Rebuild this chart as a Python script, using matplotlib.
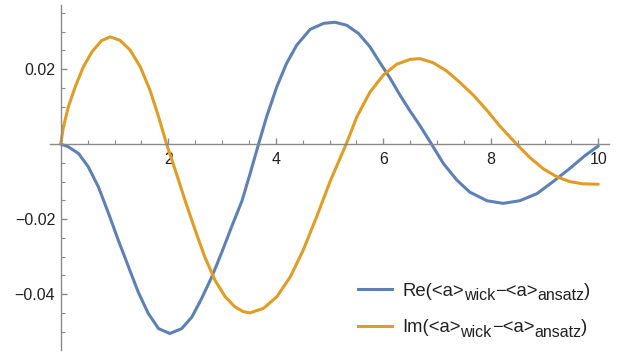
import numpy as np
import matplotlib.pyplot as plt
from matplotlib.lines import Line2D
from matplotlib.ticker import FixedLocator, FuncFormatter

plt.rcParams['font.family'] = ['Liberation Sans', 'DejaVu Sans']

# Re part
re_x = [0, 0.14, 0.33, 0.51, 0.70, 0.89, 1.07, 1.26, 1.44, 1.63, 1.82, 2.03, 2.25, 2.44,
        2.62, 2.81, 3.00, 3.18, 3.37, 3.52, 3.68, 3.83, 4.02, 4.20, 4.39, 4.64, 4.89,
        5.10, 5.32, 5.54, 5.75, 5.94, 6.13, 6.31, 6.50, 6.68, 6.89, 7.12, 7.37, 7.61,
        7.93, 8.23, 8.54, 8.86, 9.16, 9.47, 9.75, 10.0]
re_y = [0, -0.0007, -0.0025, -0.0060, -0.0114, -0.0185, -0.0256, -0.0327, -0.0394,
        -0.0452, -0.0492, -0.0505, -0.0492, -0.0461, -0.0412, -0.0354, -0.0287, -0.0220,
        -0.0152, -0.0080, 0.0, 0.0073, 0.0153, 0.0215, 0.0264, 0.0306, 0.0322, 0.0325,
        0.0317, 0.0295, 0.0260, 0.0217, 0.0175, 0.0131, 0.0088, 0.0050, 0.0002, -0.0052,
        -0.0096, -0.0128, -0.0151, -0.0158, -0.0151, -0.0132, -0.0100, -0.0065, -0.0031,
        -0.0005]

# Im part
im_x = [0, 0.05, 0.14, 0.27, 0.42, 0.58, 0.76, 0.92, 1.10, 1.29, 1.48, 1.66, 1.82, 1.97,
        2.13, 2.31, 2.50, 2.68, 2.87, 3.06, 3.24, 3.40, 3.52, 3.77, 4.02, 4.27, 4.51,
        4.76, 5.01, 5.31, 5.51, 5.75, 6.00, 6.25, 6.50, 6.68, 6.93, 7.18, 7.43, 7.68,
        7.93, 8.17, 8.48, 8.73, 8.98, 9.23, 9.47, 9.72, 10.0]
im_y = [0, 0.0046, 0.0099, 0.0153, 0.0206, 0.0246, 0.0276, 0.0286, 0.0277, 0.0251,
        0.0206, 0.0144, 0.0073, 0.0, -0.0069, -0.0149, -0.0229, -0.0301, -0.0363,
        -0.0407, -0.0434, -0.0447, -0.0450, -0.0438, -0.0407, -0.0354, -0.0283, -0.0194,
        -0.0100, 0.0, 0.0073, 0.0138, 0.0184, 0.0213, 0.0226, 0.0228, 0.0217, 0.0195,
        0.0164, 0.0130, 0.0090, 0.0048, 0.0, -0.0036, -0.0066, -0.0087, -0.0100,
        -0.0106, -0.0107]

blue = '#5e81b5'
orange = '#e19c24'
legend_parts = [
    [('Re(<a>', False), ('wick', True), ('−<a>', False), ('ansatz', True), (')', False)],
    [('Im(<a>', False), ('wick', True), ('−<a>', False), ('ansatz', True), (')', False)],
]

W, H = 623, 358
fig = plt.figure(figsize=(W / 100, H / 100), dpi=100)
ax = fig.add_axes([50 / W, 8 / H, 559 / W, 345 / H])

ax.plot(re_x, re_y, color=blue, lw=2.2, solid_capstyle='round', solid_joinstyle='round')
ax.plot(im_x, im_y, color=orange, lw=2.2, solid_capstyle='round', solid_joinstyle='round')

ax.set_xlim(-0.2, 10.2)
ax.set_ylim(-0.0549, 0.0371)

for s in ['top', 'right']:
    ax.spines[s].set_visible(False)
ax.spines['left'].set_position(('data', 0))
ax.spines['bottom'].set_position(('data', 0))
for s in ['left', 'bottom']:
    ax.spines[s].set_color('#8a8a8a')
    ax.spines[s].set_linewidth(1.0)

ax.xaxis.set_major_locator(FixedLocator([2, 4, 6, 8, 10]))
ax.xaxis.set_minor_locator(FixedLocator([v * 0.5 for v in range(1, 21) if v % 4 != 0]))
ax.yaxis.set_major_locator(FixedLocator([-0.04, -0.02, 0.02]))
ax.yaxis.set_minor_locator(FixedLocator([v * 0.005 for v in range(-11, 8) if v % 4 != 0]))
ax.xaxis.set_major_formatter(FuncFormatter(lambda v, p: '%d' % v))
ax.yaxis.set_major_formatter(FuncFormatter(lambda v, p: ('%.2f' % v).replace('-', '−')))

ax.tick_params(which='both', direction='in', color='#8a8a8a', labelcolor='#222222',
               labelsize=11.5)
ax.tick_params(which='major', length=4.5, width=1.0)
ax.tick_params(which='minor', length=2.8, width=0.8)
ax.tick_params(axis='x', pad=6)
ax.tick_params(axis='y', pad=4)

# legend drawn by hand so the subscripts can be sized like the original
for row, (col, parts) in enumerate(zip([blue, orange], legend_parts)):
    yc = 1 - (289 + 37 * row) / H
    base = 1 - (295.5 + 37 * row) / H
    fig.add_artist(Line2D([358 / W, 392 / W], [yc, yc], color=col, lw=2.2))
    last = None
    for txt, sub in parts:
        size = 11.5 if sub else 13.3
        dy = -3.5 if sub else 0
        if last is None:
            last = fig.text(402 / W, base, txt, fontsize=size, color='#222222',
                            va='baseline', ha='left')
        else:
            last = ax.annotate(txt, xy=(1, base), xycoords=(last, 'figure fraction'),
                               xytext=(0, dy), textcoords='offset points',
                               fontsize=size, color='#222222', va='baseline', ha='left',
                               annotation_clip=False)

fig.savefig('out.png', dpi=100)
